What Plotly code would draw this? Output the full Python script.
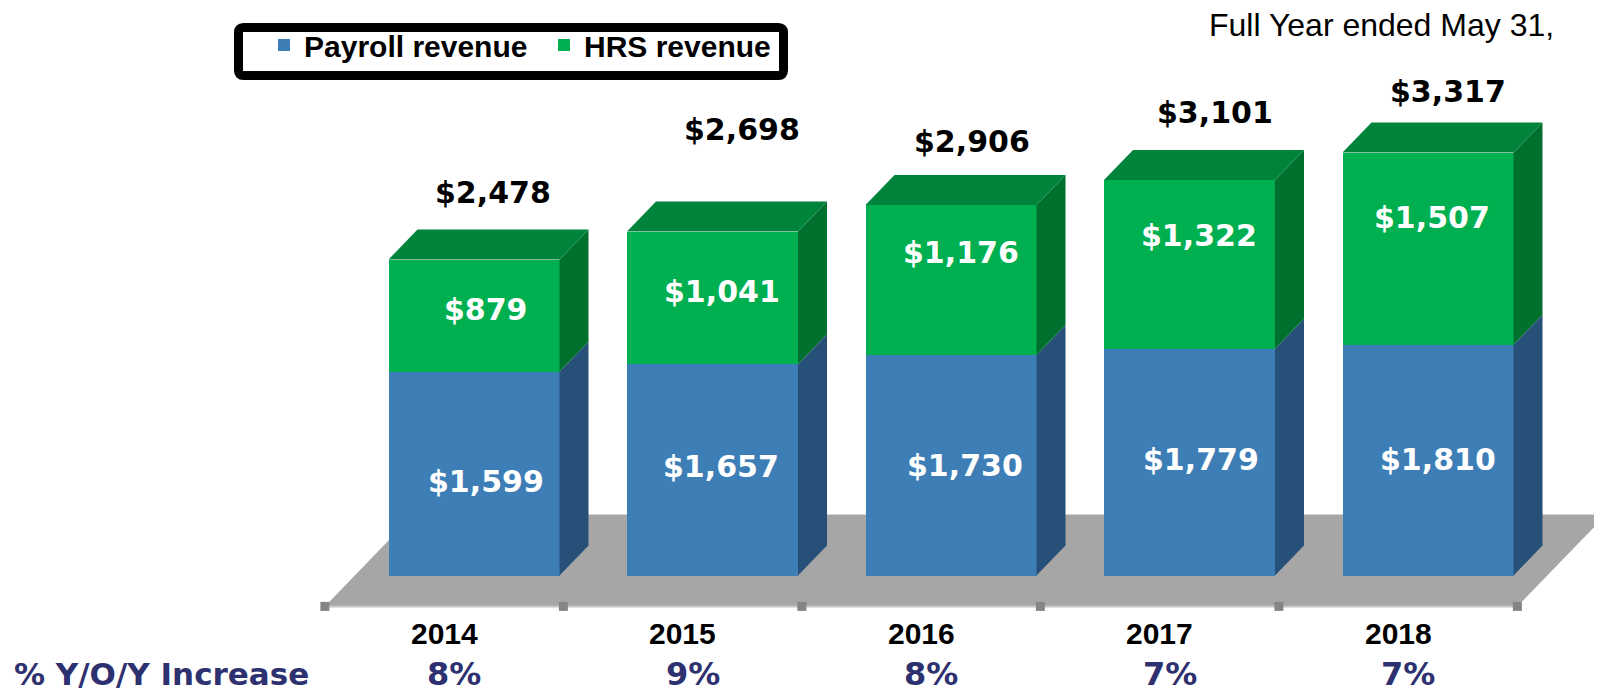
import plotly.graph_objects as go

# ---------------- data ----------------
years = ["2014", "2015", "2016", "2017", "2018"]
payroll_revenue = [1599, 1657, 1730, 1779, 1810]
hrs_revenue = [879, 1041, 1176, 1322, 1507]
total_revenue = [2478, 2698, 2906, 3101, 3317]
yoy_increase = ["8%", "9%", "8%", "7%", "7%"]

# ---------------- styling / layout constants ----------------
W, H = 1602, 694
OFF = 8                               # page body margin of the html page
X0_PX, SX_PX = 474.0 - OFF, 238.5     # pixel of category 0 centre, pixels per category
Y0_PX, SY_PX = 575.5 - OFF, 0.1275    # pixel of value 0, pixels per unit
DEPTH_PX = (29.0, 30.0)               # oblique depth offset (right, up) in pixels
BAR_W = 0.717
FLOOR_Z = (-1.03, 2.03)               # floor front / back depth, in depth units

BLUE_FRONT, BLUE_SIDE = "#3E7EB7", "#275078"
GREEN_FRONT, GREEN_SIDE, GREEN_TOP = "#00B050", "#00702F", "#00843C"
FLOOR_COLOR = "#A6A6A6"
NAVY = "#2E3170"

# label nudges in pixels (x right, y up)
total_dx = [19, 29, 21, 25, 20]
total_dy = [37, 72, 33, 38, 31]
pay_dx = [12, 8, 14, 11, 10]
pay_dy = [-8, 3, 0, 3, 1]
hrs_dx = [12, 9, 10, 9, 4]
hrs_dy = [6, 6, 27, 29, 31]

DX = DEPTH_PX[0] / SX_PX
DY = DEPTH_PX[1] / SY_PX
xr = [(0 - X0_PX) / SX_PX, (W - X0_PX) / SX_PX]
yr = [(Y0_PX - H) / SY_PX, Y0_PX / SY_PX]

fig = go.Figure()

# front faces: real stacked bars
xs = list(range(len(years)))
fig.add_trace(go.Bar(x=xs, y=payroll_revenue, width=BAR_W, name="Payroll revenue",
                     marker=dict(color=BLUE_FRONT, line=dict(width=0)), hoverinfo="skip"))
fig.add_trace(go.Bar(x=xs, y=hrs_revenue, width=BAR_W, name="HRS revenue",
                     marker=dict(color=GREEN_FRONT, line=dict(width=0)), hoverinfo="skip"))


def poly(px, py, color):
    fig.add_trace(go.Scatter(x=px + [px[0]], y=py + [py[0]], mode="lines", fill="toself",
                             fillcolor=color, line=dict(width=0, color=color),
                             showlegend=False, hoverinfo="skip"))


for i in xs:
    xl, xrt = i - BAR_W / 2, i + BAR_W / 2
    base = 0
    segs = [(payroll_revenue[i], BLUE_SIDE), (hrs_revenue[i], GREEN_SIDE)]
    for val, side_col in segs:
        top = base + val
        poly([xrt, xrt + DX, xrt + DX, xrt], [base, base + DY, top + DY, top], side_col)
        base = top
    # top face
    poly([xl, xl + DX, xrt + DX, xrt], [base, base + DY, base + DY, base], GREEN_TOP)

# floor (below everything)
zf, zb = FLOOR_Z
fl = -0.5
frt = len(years) - 0.5
floor_path = (f"M {fl + zf*DX},{zf*DY} L {frt + zf*DX},{zf*DY} "
              f"L {frt + zb*DX},{zb*DY} L {fl + zb*DX},{zb*DY} Z")
shapes = [
    dict(type="path", path=floor_path, xref="x", yref="y", layer="below",
         fillcolor=FLOOR_COLOR, line=dict(width=0)),
    dict(type="line", xref="x", yref="y", layer="below",
         x0=fl + zf*DX, x1=frt + zf*DX, y0=zf*DY, y1=zf*DY,
         line=dict(color="#C4C4C4", width=2)),
]

# tick squares on the floor front edge
tick_x = [k - 0.5 + zf * DX for k in range(len(years) + 1)]
fig.add_trace(go.Scatter(x=tick_x, y=[zf * DY] * len(tick_x), mode="markers",
                         marker=dict(symbol="square", size=9, color="#858585"),
                         showlegend=False, hoverinfo="skip"))

ann = []
VAL_FONT = "DejaVu Sans"
YOY_Y = 1 - (674 - OFF) / H
for i in xs:
    ann.append(dict(x=i, y=total_revenue[i] + DY, xref="x", yref="y",
                    text=f"${total_revenue[i]:,}", showarrow=False,
                    xshift=total_dx[i], yshift=total_dy[i], yanchor="middle",
                    font=dict(family=VAL_FONT, size=30, color="black", weight="bold")))
    ann.append(dict(x=i, y=payroll_revenue[i] / 2, xref="x", yref="y",
                    text=f"${payroll_revenue[i]:,}", showarrow=False,
                    xshift=pay_dx[i], yshift=pay_dy[i], yanchor="middle",
                    font=dict(family=VAL_FONT, size=30, color="white", weight="bold")))
    ann.append(dict(x=i, y=payroll_revenue[i] + hrs_revenue[i] / 2, xref="x", yref="y",
                    text=f"${hrs_revenue[i]:,}", showarrow=False,
                    xshift=hrs_dx[i], yshift=hrs_dy[i], yanchor="middle",
                    font=dict(family=VAL_FONT, size=30, color="white", weight="bold")))
    # category labels
    ann.append(dict(x=i + zf * DX, y=zf * DY, xref="x", yref="y", text=years[i],
                    showarrow=False, yshift=-27, yanchor="middle",
                    font=dict(family="Liberation Sans", size=30, color="black", weight="bold")))
    # yoy
    ann.append(dict(x=i, y=YOY_Y, xref="x", yref="paper", text=yoy_increase[i],
                    showarrow=False, xshift=-20, yanchor="middle",
                    font=dict(family=VAL_FONT, size=32, color=NAVY, weight="bold")))

ann.append(dict(x=(12 - OFF) / W, y=YOY_Y, xref="paper", yref="paper",
                text="% Y/O/Y Increase", showarrow=False, xanchor="left", yanchor="middle",
                font=dict(family=VAL_FONT, size=31, color=NAVY, weight="bold")))
ann.append(dict(x=(1556 - OFF) / W, y=1 - (25 - OFF) / H, xref="paper", yref="paper",
                text="Full Year ended May 31,", showarrow=False, xanchor="right",
                yanchor="middle", font=dict(family="Liberation Sans", size=32, color="black")))

# legend frame (rounded rectangle), outer edge 234..788 x 23..80, 9 px stroke
LW = 9
lx0, lx1 = 234 - OFF + LW / 2, 788 - OFF - LW / 2
ly0, ly1 = 23 - OFF + LW / 2, 80 - OFF - LW / 2
r = 5


def px2(x, y):
    return f"{x / W},{1 - y / H}"


leg_path = (f"M {px2(lx0 + r, ly0)} L {px2(lx1 - r, ly0)} Q {px2(lx1, ly0)} {px2(lx1, ly0 + r)} "
            f"L {px2(lx1, ly1 - r)} Q {px2(lx1, ly1)} {px2(lx1 - r, ly1)} "
            f"L {px2(lx0 + r, ly1)} Q {px2(lx0, ly1)} {px2(lx0, ly1 - r)} "
            f"L {px2(lx0, ly0 + r)} Q {px2(lx0, ly0)} {px2(lx0 + r, ly0)} Z")
shapes.append(dict(type="path", path=leg_path, xref="paper", yref="paper",
                   line=dict(color="black", width=LW), fillcolor="white", layer="below"))

fig.update_layout(
    width=W, height=H, margin=dict(l=0, r=0, t=0, b=0),
    paper_bgcolor="white", plot_bgcolor="white",
    barmode="stack", bargap=0,
    xaxis=dict(range=xr, visible=False, fixedrange=True),
    yaxis=dict(range=yr, visible=False, fixedrange=True),
    shapes=shapes, annotations=ann,
    legend=dict(orientation="h", x=(264 - OFF) / W, y=1 - (45 - OFF) / H,
                xanchor="left", yanchor="middle", entrywidth=235, entrywidthmode="pixels",
                traceorder="normal", bgcolor="rgba(0,0,0,0)", borderwidth=0,
                font=dict(family="Liberation Sans", size=30, color="black", weight="bold")),
    showlegend=True,
)

fig.write_html("out.html")
